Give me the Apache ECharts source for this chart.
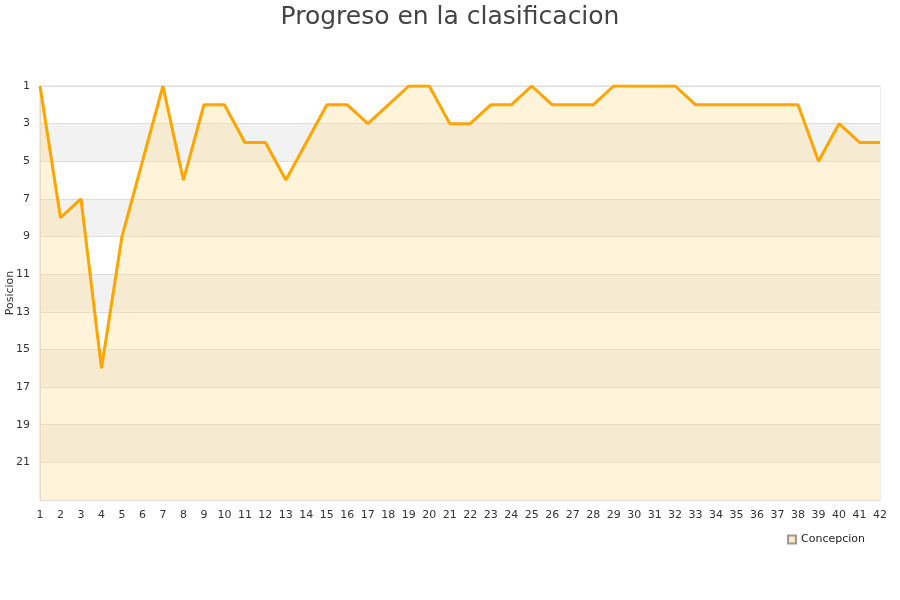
<!DOCTYPE html>
<html><head><meta charset="utf-8">
<script src="https://cdn.jsdelivr.net/npm/echarts@6/dist/echarts.min.js"></script>
<style>html,body{margin:0;padding:0;background:#fff}#c{width:900px;height:600px}</style>
</head><body><div id="c"></div>
<script>
const jornadas = [1,2,3,4,5,6,7,8,9,10,11,12,13,14,15,16,17,18,19,20,21,22,23,24,25,26,27,28,29,30,31,32,33,34,35,36,37,38,39,40,41,42];
const posicion = [1,8,7,16,9,5,1,6,2,2,4,4,6,4,2,2,3,2,1,1,3,3,2,2,1,2,2,2,1,1,1,1,2,2,2,2,2,2,5,3,4,4];
const yTicks = [1,3,5,7,9,11,13,15,17,19,21];
const seriesName = 'Concepcion';

const chart = echarts.init(document.getElementById('c'));
chart.setOption({
  animation: false,
  title: { text: 'Progreso en la clasificacion', left: 'center', top: 0,
    textStyle: { fontFamily: 'DejaVu Sans', fontSize: 25, fontWeight: 'normal', color: '#444' } },
  legend: { data: [{ name: seriesName, icon: 'rect' }], right: 30, top: 529, itemWidth: 8, itemHeight: 8,
    textStyle: { fontFamily: 'DejaVu Sans', fontSize: 11, color: '#222' } },
  grid: { left: 40, right: 20, top: 86, bottom: 100, containLabel: false, outerBoundsMode: 'none',
    show: true, borderColor: '#ddd', borderWidth: 1, backgroundColor: 'transparent' },
  xAxis: { type: 'category', data: jornadas.map(String), boundaryGap: false,
    axisLine: { lineStyle: { color: '#ddd' } }, axisTick: { show: false },
    axisLabel: { interval: 0, fontFamily: 'DejaVu Sans', fontSize: 11, color: '#333', margin: 10 } },
  yAxis: { type: 'value', inverse: true, min: 1, max: 23, interval: 2,
    name: 'Posicion', nameLocation: 'middle', nameGap: 24, nameRotate: 90, nameMoveOverlap: false,
    nameTextStyle: { fontFamily: 'DejaVu Sans', fontSize: 11, color: '#333' },
    axisLine: { show: true, lineStyle: { color: '#ddd' } }, axisTick: { show: false },
    axisLabel: { fontFamily: 'DejaVu Sans', fontSize: 11, color: '#333', margin: 10,
      formatter: v => yTicks.includes(v) ? String(v) : '' },
    splitLine: { lineStyle: { color: '#ddd' } },
    splitArea: { show: true, areaStyle: { color: ['#ffffff', '#f2f2f2'] } } },
  series: [{ name: seriesName, type: 'line', data: posicion, showSymbol: false,
    lineStyle: { color: '#ffa500', width: 3 }, itemStyle: { color: '#ffe9c0', borderColor: '#999', borderWidth: 1 },
    areaStyle: { color: 'rgba(255,216,138,0.45)', origin: 'end' } }]
});
</script></body></html>
